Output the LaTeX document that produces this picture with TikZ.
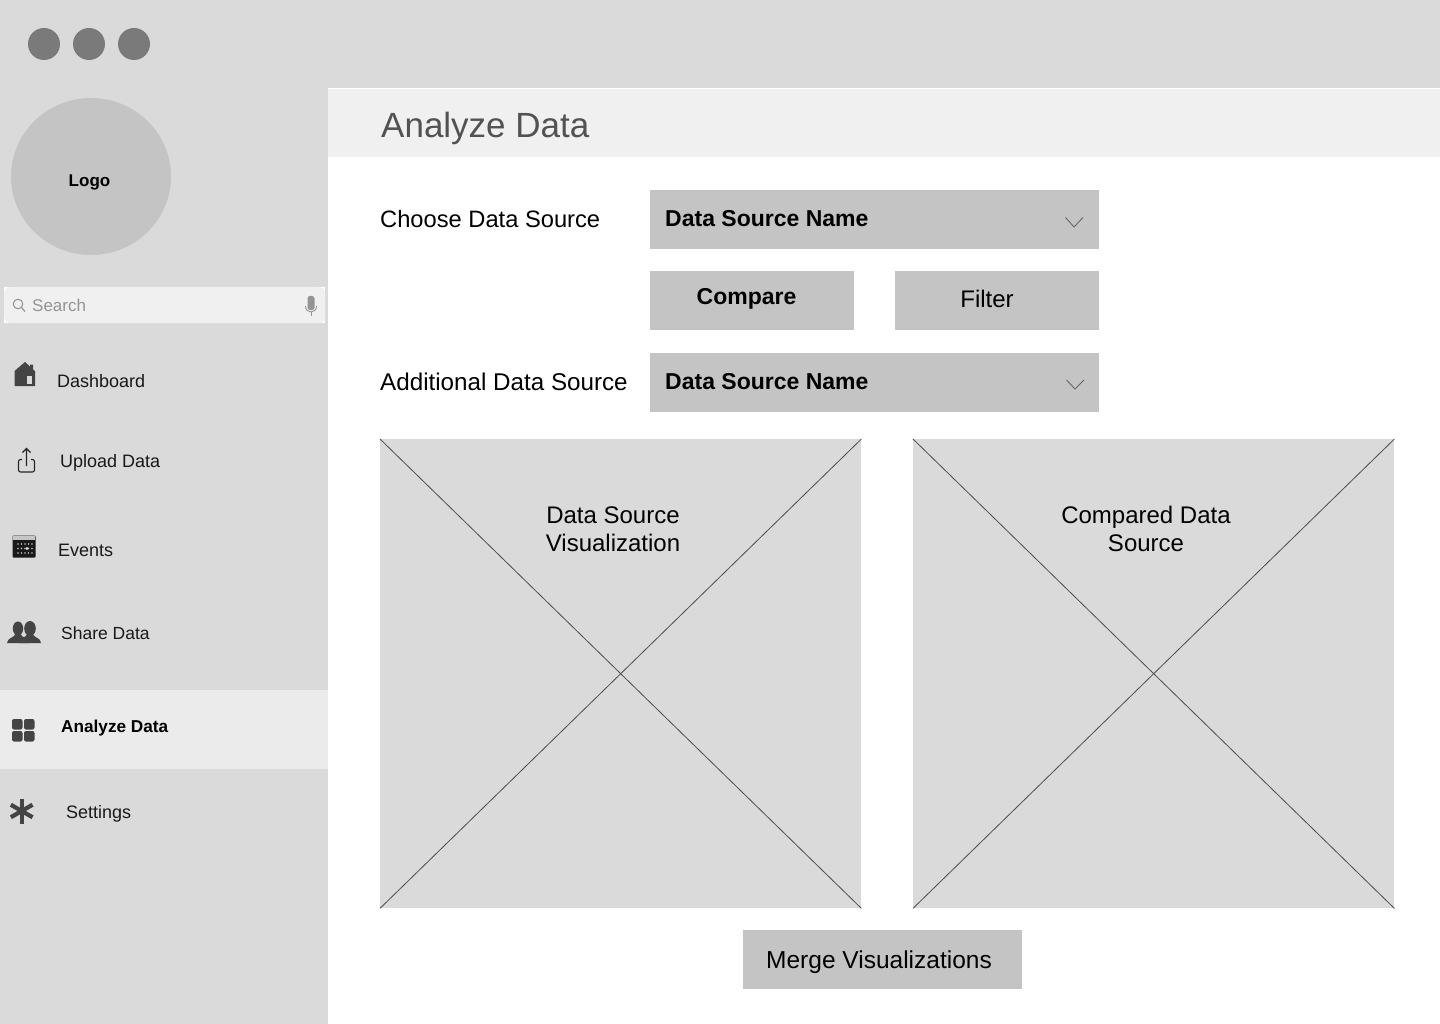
\documentclass[tikz,border=0pt]{standalone}
\usepackage{fontspec}
\setmainfont{Liberation Sans}
\usepackage{tikz}
\usetikzlibrary{shapes.geometric,calc}
\definecolor{panel}{HTML}{DADADA}
\definecolor{boxgray}{HTML}{C4C4C4}
\definecolor{titlegray}{HTML}{F0F0F0}
\definecolor{activegray}{HTML}{EBEBEB}
\definecolor{icongray}{HTML}{444444}
\tikzstyle{block} = [rectangle, fill=boxgray, anchor=north west, inner sep=0pt]
\tikzstyle{dropdown} = [block, minimum width=449pt, minimum height=59pt]
\tikzstyle{button} = [block, minimum width=204pt, minimum height=59pt]
\tikzstyle{viz} = [block, fill=panel, minimum width=481pt, minimum height=469pt]
\tikzstyle{cross} = [draw=black!70, line width=0.8pt]
\tikzstyle{dot} = [circle, fill=black!52, minimum size=32pt, inner sep=0pt]
\tikzstyle{label} = [anchor=base west, inner sep=0pt, font=\fontsize{24}{28}\selectfont]
\tikzstyle{boldlabel} = [label, font=\fontsize{23}{28}\selectfont\bfseries]
\tikzstyle{vizlabel} = [anchor=base, inner sep=0pt, font=\fontsize{24}{28}\selectfont]
\tikzstyle{menu} = [anchor=base west, inner sep=0pt, font=\fontsize{18}{22}\selectfont, text=black!90]
\tikzstyle{chevron} = [draw=black!60, line width=0.9pt]
\tikzstyle{icon} = [fill=icongray, draw=none]
\begin{document}
\begin{tikzpicture}[x=1pt, y=-1pt]
    \useasboundingbox (0,0) rectangle (1440,1024);
    % panels
    \node[block, fill=panel, minimum width=1440pt, minimum height=1024pt] (window) at (0,0) {};
    \node[block, fill=white, minimum width=1112pt, minimum height=936pt] (main) at (328,88) {};
    \node[block, fill=titlegray, minimum width=1112pt, minimum height=68pt] (titlebar) at (328,89) {};
    \node[block, fill=activegray, minimum width=328pt, minimum height=79pt] (active) at (0,690) {};
    % window dots
    \node[dot] (dot1) at (44,44) {};
    \node[dot] (dot2) at (89,44) {};
    \node[dot] (dot3) at (134,44) {};
    % logo
    \node[ellipse, fill=boxgray, minimum width=160pt, minimum height=157pt, inner sep=0pt] (logo) at (91,176.5) {};
    \node[anchor=base, inner sep=0pt, font=\fontsize{17}{22}\selectfont\bfseries] (logotext) at (89.5,186.5) {Logo};
    % search
    \node[block, fill=white, minimum width=321pt, minimum height=36pt] (searchback) at (4,287) {};
    \node[block, fill=titlegray, rounded corners=6pt, minimum width=321pt, minimum height=36pt] (search) at (4,287) {};
    \node[anchor=base west, inner sep=0pt, text=black!42, font=\fontsize{17}{20}\selectfont] (searchtext) at (32,311.5) {Search};
    \draw[black!42, line width=1pt] (18,304) circle (4.8);
    \draw[black!42, line width=1.2pt] (21.5,307.5) -- (25,311.5);
    \fill[black!42, rounded corners=2.5pt] (307.5,296) rectangle (314.5,310);
    \draw[black!42, line width=0.9pt] (305.5,306) .. controls (305.5,314) and (316.5,314) .. (316.5,306);
    \draw[black!42, line width=0.9pt] (311,312) -- (311,316);
    % menu
    \node[menu] (dashboard) at (57,387) {Dashboard};
    \node[menu] (upload) at (60,467) {Upload Data};
    \node[menu] (events) at (58,556) {Events};
    \node[menu, font=\fontsize{17.5}{22}\selectfont] (share) at (61,639) {Share Data};
    \node[menu, font=\fontsize{17.2}{22}\selectfont\bfseries, text=black] (analyze) at (61,732) {Analyze Data};
    \node[menu] (settings) at (66,818) {Settings};
    % menu icons
    \fill[icon] (14.5,386) -- (14.5,371) -- (25,362) -- (30,366.5) -- (30,364.5) -- (33,364.5) -- (33,369.5) -- (35,371) -- (35,386) -- cycle;
    \fill[panel] (27,376) rectangle (31.5,384);
    \draw[black!85, line width=1.1pt, rounded corners=2pt] (22,459.5) -- (18.5,459.5) -- (18.5,472) -- (34.5,472) -- (34.5,459.5) -- (31,459.5);
    \draw[black!85, line width=1.1pt] (26.5,466) -- (26.5,448.5) (22.5,452.5) -- (26.5,448.5) -- (30.5,452.5);
    \fill[black!90, rounded corners=1pt] (12.5,535.5) rectangle (35.5,557.5);
    \fill[black!22] (13,536) rectangle (35,540);
    \foreach \row in {544,548.5,553} {
        \foreach \col in {18,21.5,...,32} {
            \fill[white!75!black] (\col,\row) circle (0.8);
        }
    }
    \fill[white!85!black] (27,548.5) circle (1.6);
    % two people, the one behind first
    \fill[icon] (18,628.5) ellipse (5.2 and 7);
    \fill[icon] (7,643) .. controls (7.5,637.5) and (14,638) .. (15.5,634) -- (20.5,634) .. controls (22,638) and (28,637.5) .. (29,643) -- cycle;
    \fill[icon] (30,628.5) ellipse (5.8 and 7.5);
    \fill[icon] (19,643) .. controls (19.5,637.5) and (25.5,638) .. (27,634.5) -- (33,634.5) .. controls (34.5,638) and (40.5,637.5) .. (41,643) -- cycle;
    \foreach \cx in {12,24} {
        \foreach \cy in {719,731} {
            \fill[icon, rounded corners=2pt] (\cx,\cy) rectangle ++(10.5,10.5);
        }
    }
    \foreach \ang in {90,30,-30} {
        \draw[icongray, line width=4.2pt] ($(21.7,811)+(\ang:12.5)$) -- ($(21.7,811)+(\ang+180:12.5)$);
    }
    % page title
    \node[label, font=\fontsize{35}{42}\selectfont, text=black!68] (title) at (381,137.5) {Analyze Data};
    % controls
    \node[label, font=\fontsize{23.7}{28}\selectfont] (choose) at (380,228) {Choose Data Source};
    \node[label, font=\fontsize{24.2}{28}\selectfont] (additional) at (380,390) {Additional Data Source};
    \node[dropdown] (source1) at (650,190) {};
    \node[button] (compare) at (650,271) {};
    \node[button] (filter) at (895,271) {};
    \node[dropdown] (source2) at (650,353) {};
    \node[boldlabel] (source1text) at (665,227) {Data Source Name};
    \node[boldlabel] (source2text) at (665,389) {Data Source Name};
    \node[boldlabel, anchor=base] (comparetext) at (746.5,305) {Compare};
    \node[label, anchor=base] (filtertext) at (987,308) {Filter};
    \draw[chevron] (1065.5,217.5) -- (1074,227) -- (1083,217.5);
    \draw[chevron] (1066.5,380) -- (1075,389) -- (1084,380);
    % visualizations
    \node[viz] (viz1) at (380,439) {};
    \node[viz] (viz2) at (913,439) {};
    \draw[cross] (viz1.north west) -- (viz1.south east);
    \draw[cross] (viz1.north east) -- (viz1.south west);
    \draw[cross] (viz2.north west) -- (viz2.south east);
    \draw[cross] (viz2.north east) -- (viz2.south west);
    \node[vizlabel] (viz1top) at (613,523) {Data Source};
    \node[vizlabel] (viz1bottom) at (613,551) {Visualization};
    \node[vizlabel] (viz2top) at (1146,523) {Compared Data};
    \node[vizlabel] (viz2bottom) at (1146,551) {Source};
    % merge
    \node[block, minimum width=279pt, minimum height=59pt] (merge) at (743,930) {};
    \node[label, font=\fontsize{24.5}{28}\selectfont] (mergetext) at (766,968) {Merge Visualizations};
\end{tikzpicture}
\end{document}
